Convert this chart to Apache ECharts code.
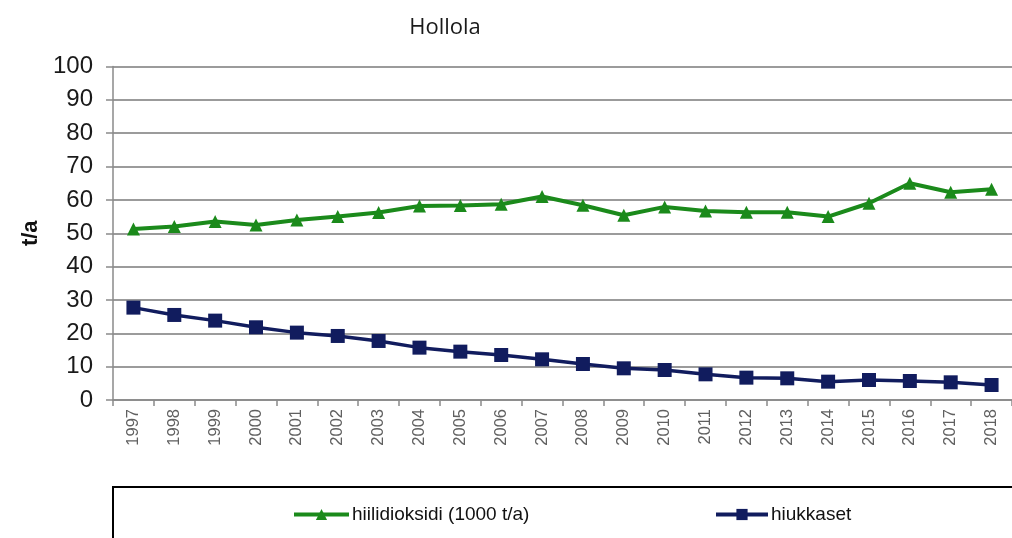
<!DOCTYPE html>
<html>
<head>
<meta charset="utf-8">
<title>Hollola</title>
<script src="https://cdn.jsdelivr.net/npm/echarts@6/dist/echarts.min.js"></script>
<style>
  html, body { margin: 0; padding: 0; background: #ffffff; }
  #chart { width: 1012px; height: 538px; }
</style>
</head>
<body>
<div id="chart"></div>
<script>
// Emissions in Hollola, 1997–2018
const years = ['1997','1998','1999','2000','2001','2002','2003','2004','2005','2006','2007',
               '2008','2009','2010','2011','2012','2013','2014','2015','2016','2017','2018'];

// carbon dioxide, 1000 t/a
const hiilidioksidi = [51.3, 52.0, 53.5, 52.5, 54.0, 55.0, 56.2, 58.2, 58.3, 58.7, 61.0,
                       58.4, 55.4, 57.9, 56.7, 56.3, 56.3, 55.0, 59.0, 65.0, 62.3, 63.2];

// particulates, t/a
const hiukkaset = [27.7, 25.5, 23.8, 21.8, 20.2, 19.2, 17.7, 15.7, 14.5, 13.5, 12.2,
                   10.8, 9.5, 9.0, 7.7, 6.7, 6.5, 5.5, 6.0, 5.7, 5.3, 4.5];

const seriesNames = ['hiilidioksidi (1000 t/a)', 'hiukkaset'];
const titleText = 'Hollola';
const yAxisName = 't/a';

const GREEN = '#1b8a1b';
const NAVY = '#111c5e';

const chart = echarts.init(document.getElementById('chart'), null, { renderer: 'canvas' });

const legendText = {
  fontFamily: '"Liberation Sans Narrow", "Liberation Sans", Arial, sans-serif',
  fontSize: 19,
  color: '#111',
  padding: [0, 0, 0, -2]
};

chart.setOption({
  backgroundColor: '#ffffff',
  animation: false,
  title: {
    text: titleText,
    left: 440,
    textAlign: 'center',
    top: 12,
    textStyle: {
      fontFamily: '"Open Sans", "Noto Sans", sans-serif',
      fontWeight: 'normal',
      fontSize: 22,
      color: '#1a1a1a'
    }
  },
  grid: { left: 113, top: 66.5, width: 903, height: 333.5, containLabel: false },
  xAxis: {
    type: 'category',
    data: years,
    boundaryGap: true,
    axisLine: { lineStyle: { color: '#8a8a8a', width: 1.5 } },
    axisTick: { show: true, alignWithLabel: false, length: 6, lineStyle: { color: '#8a8a8a', width: 1.5 } },
    axisLabel: {
      rotate: 90,
      margin: 9,
      fontFamily: '"Liberation Sans", Arial, sans-serif',
      fontSize: 16.5,
      color: '#606060'
    },
    splitLine: { show: false }
  },
  yAxis: {
    type: 'value',
    min: 0,
    max: 100,
    interval: 10,
    name: yAxisName,
    nameLocation: 'middle',
    nameGap: 70,
    nameRotate: 90,
    nameTextStyle: {
      fontFamily: '"Liberation Sans", Arial, sans-serif',
      fontWeight: 'bold',
      fontSize: 22,
      color: '#111'
    },
    axisLine: { show: true, lineStyle: { color: '#8a8a8a', width: 1.5 } },
    axisTick: { show: true, length: 7, lineStyle: { color: '#8a8a8a', width: 1.5 } },
    axisLabel: {
      margin: 20,
      fontFamily: '"Liberation Sans", Arial, sans-serif',
      fontSize: 24,
      color: '#1a1a1a'
    },
    splitLine: { show: true, lineStyle: { color: '#7a7a7a', width: 1.5 } }
  },
  legend: [
    {
      data: [seriesNames[0]],
      left: 292,
      top: 505,
      itemWidth: 55,
      itemHeight: 14,
      itemGap: 0,
      padding: 0,
      lineStyle: { width: 4 },
      textStyle: legendText
    },
    {
      data: [seriesNames[1]],
      left: 714,
      top: 505,
      itemWidth: 52,
      itemHeight: 14,
      itemGap: 0,
      padding: 0,
      lineStyle: { width: 4 },
      textStyle: legendText
    }
  ],
  graphic: [
    {
      type: 'rect',
      shape: { x: 113, y: 487, width: 940, height: 90 },
      style: { fill: 'none', stroke: '#000', lineWidth: 2 },
      silent: true
    }
  ],
  series: [
    {
      name: seriesNames[0],
      type: 'line',
      data: hiilidioksidi,
      symbol: 'triangle',
      symbolSize: 13,
      lineStyle: { color: GREEN, width: 4 },
      itemStyle: { color: GREEN },
      z: 3
    },
    {
      name: seriesNames[1],
      type: 'line',
      data: hiukkaset,
      symbol: 'rect',
      symbolSize: 14,
      lineStyle: { color: NAVY, width: 3.5 },
      itemStyle: { color: NAVY },
      z: 3
    }
  ]
});
</script>
</body>
</html>
